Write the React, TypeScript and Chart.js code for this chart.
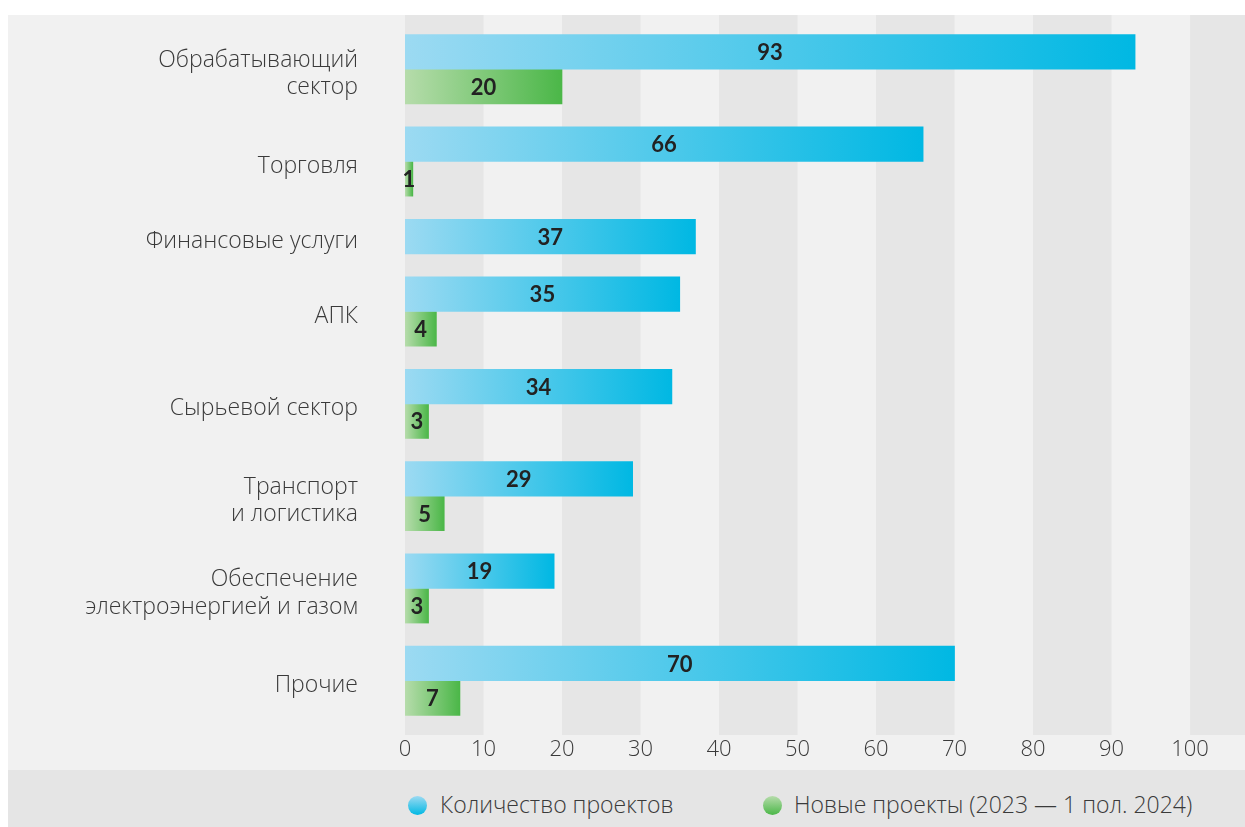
import React, { useEffect, useRef } from 'react';
import { Chart, registerables, CategoryScale } from 'chart.js';

// ---------- data ----------
const categories: (string | string[])[] = [
  ['Обрабатывающий', 'сектор'],
  'Торговля',
  'Финансовые услуги',
  'АПК',
  'Сырьевой сектор',
  ['Транспорт', 'и логистика'],
  ['Обеспечение', 'электроэнергией и газом'],
  'Прочие',
];
const projectCounts = [93, 66, 37, 35, 34, 29, 19, 70];
const newProjects: (number | null)[] = [20, 1, null, 4, 3, 5, 3, 7];
const seriesNames = ['Количество проектов', 'Новые проекты (2023 — 1 пол. 2024)'];
const xMin = 0;
const xMax = 107;
const xStep = 10;

// ---------- style ----------
const FONT = '"Open Sans", Lato, sans-serif';
const BOLD_FONT = 'Lato, "Open Sans", sans-serif';
const TEXT = '#3a3a3a';
const PANEL_BG = '#f1f1f1';
const STRIPE_BG = '#e6e6e6';
const LEGEND_BG = '#e5e5e5';
const BLUE_FROM = '#9cdaf2';
const BLUE_TO = '#00b8e3';
const GREEN_FROM = '#b6dcab';
const GREEN_TO = '#4bb748';
const BAR_PX = 34.6;
const BAR_UNITS = 3;
const GAP_UNITS = 2;
const PAD_UNITS = 0.7;

// Category scale whose rows are as tall as the number of bars they hold
class WeightedCategoryScale extends CategoryScale {
  static id = 'weightedCategory';
  rowDecimal(value: number): number {
    const chart: any = (this as any).chart;
    const n = chart.data.labels.length;
    const weights: number[] = [];
    for (let i = 0; i < n; i++) {
      let c = 0;
      chart.data.datasets.forEach((d: any) => {
        const v = d.data[i];
        if (v !== null && v !== undefined) c++;
      });
      weights.push(GAP_UNITS + BAR_UNITS * Math.max(c, 1));
    }
    const total = weights.reduce((a, b) => a + b, 0) + 2 * PAD_UNITS;
    const i = Math.max(0, Math.min(n - 1, Math.round(value)));
    let cum = PAD_UNITS;
    for (let k = 0; k < i; k++) cum += weights[k];
    const centre = cum + weights[i] / 2 + (value - i) * weights[i];
    return centre / total;
  }
  getPixelForValue(value: any): number {
    if (typeof value !== 'number') value = (this as any).parse(value);
    if (value === null || value === undefined || isNaN(value)) return NaN;
    return (this as any).getPixelForDecimal(this.rowDecimal(value));
  }
  getValueForPixel(pixel: number): number {
    const n = (this as any).chart.data.labels.length;
    let best = 0;
    let bestD = Infinity;
    for (let i = 0; i < n; i++) {
      const d = Math.abs(this.getPixelForValue(i) - pixel);
      if (d < bestD) { bestD = d; best = i; }
    }
    return best;
  }
}

Chart.register(...registerables, WeightedCategoryScale as any);

const gradientFill = (from: string, to: string) => (ctx: any) => {
  const chart = ctx.chart;
  if (ctx.type !== 'data' || !chart.chartArea || ctx.raw == null) return to;
  const xs = chart.scales.x;
  const x0 = xs.getPixelForValue(0);
  const x1 = xs.getPixelForValue(ctx.raw);
  if (!isFinite(x0) || !isFinite(x1) || x1 - x0 < 1) return to;
  const g = chart.ctx.createLinearGradient(x0, 0, x1, 0);
  g.addColorStop(0, from);
  g.addColorStop(1, to);
  return g;
};

const backgroundPlugin = {
  id: 'stripedBackground',
  beforeDraw(chart: any) {
    const { ctx, chartArea, width, height } = chart;
    const xs = chart.scales.x;
    ctx.save();
    ctx.fillStyle = PANEL_BG;
    ctx.fillRect(0, 0, width, height);
    ctx.fillStyle = STRIPE_BG;
    for (let v = xMin; v < xMax; v += 2 * xStep) {
      const a = xs.getPixelForValue(v);
      const b = xs.getPixelForValue(Math.min(v + xStep, xMax));
      ctx.fillRect(a, chartArea.top, b - a, chartArea.bottom - chartArea.top);
    }
    ctx.restore();
  },
};

const valueLabelPlugin = {
  id: 'valueLabels',
  afterDatasetsDraw(chart: any) {
    const { ctx } = chart;
    ctx.save();
    ctx.font = `bold 22px ${BOLD_FONT}`;
    ctx.fillStyle = '#222222';
    ctx.textAlign = 'center';
    ctx.textBaseline = 'middle';
    chart.data.datasets.forEach((ds: any, di: number) => {
      const meta = chart.getDatasetMeta(di);
      meta.data.forEach((el: any, i: number) => {
        const v = ds.data[i];
        if (v === null || v === undefined) return;
        ctx.fillText(String(v), (el.x + el.base) / 2, el.y + 1);
      });
    });
    ctx.restore();
  },
};

function ChartCanvas() {
  const ref = useRef<HTMLCanvasElement | null>(null);
  useEffect(() => {
    if (!ref.current) return;
    const chart = new Chart(ref.current, {
      type: 'bar',
      data: {
        labels: categories as any,
        datasets: [
          {
            label: seriesNames[0],
            data: projectCounts,
            backgroundColor: gradientFill(BLUE_FROM, BLUE_TO),
            borderWidth: 0,
            barThickness: BAR_PX,
            skipNull: true,
          } as any,
          {
            label: seriesNames[1],
            data: newProjects,
            backgroundColor: gradientFill(GREEN_FROM, GREEN_TO),
            borderWidth: 0,
            barThickness: BAR_PX,
            skipNull: true,
          } as any,
        ],
      },
      options: {
        indexAxis: 'y',
        animation: false,
        responsive: true,
        maintainAspectRatio: false,
        layout: { padding: 0 },
        plugins: {
          legend: { display: false },
          tooltip: { enabled: false },
        },
        scales: {
          x: {
            type: 'linear',
            min: xMin,
            max: xMax,
            grid: { display: false, drawTicks: false },
            border: { display: false },
            ticks: {
              stepSize: xStep,
              includeBounds: false,
              padding: 2,
              color: TEXT,
              font: { family: FONT, size: 22, weight: 300 as any },
              maxRotation: 0,
            },
            afterFit: (s: any) => {
              s.height = 35;
              s.paddingLeft = 0;
              s.paddingRight = 0;
            },
          },
          y: {
            type: 'weightedCategory' as any,
            grid: { display: false, drawTicks: false },
            border: { display: false },
            ticks: {
              padding: 47,
              labelOffset: 5,
              color: TEXT,
              font: { family: FONT, size: 23, weight: 300 as any, lineHeight: 1.18 },
              autoSkip: false,
            },
            afterFit: (s: any) => {
              s.width = 397;
              s.paddingTop = 0;
              s.paddingBottom = 0;
            },
          } as any,
        },
      },
      plugins: [backgroundPlugin, valueLabelPlugin],
    });
    return () => chart.destroy();
  }, []);
  return <canvas ref={ref} />;
}

const dot = (from: string, to: string, left: number): React.CSSProperties => ({
  position: 'absolute',
  left,
  top: 26,
  width: 19,
  height: 19,
  borderRadius: '50%',
  background: `linear-gradient(to bottom, ${from}, ${to})`,
});

const legendText: React.CSSProperties = {
  position: 'absolute',
  top: 17,
  fontFamily: FONT,
  fontWeight: 300,
  fontSize: 23,
  lineHeight: '34px',
  color: TEXT,
  whiteSpace: 'nowrap',
};

export default function App() {
  return (
    <div
      style={{
        position: 'absolute',
        left: 8,
        top: 15,
        width: 1237,
        height: 812,
        background: PANEL_BG,
      }}
    >
      <div style={{ position: 'relative', width: '100%', height: 755 }}>
        <ChartCanvas />
      </div>
      <div style={{ position: 'relative', height: 57, background: LEGEND_BG }}>
        <div style={dot(BLUE_FROM, BLUE_TO, 400)} />
        <div style={{ ...legendText, left: 432 }}>{seriesNames[0]}</div>
        <div style={dot(GREEN_FROM, GREEN_TO, 755)} />
        <div style={{ ...legendText, left: 786 }}>{seriesNames[1]}</div>
      </div>
    </div>
  );
}
